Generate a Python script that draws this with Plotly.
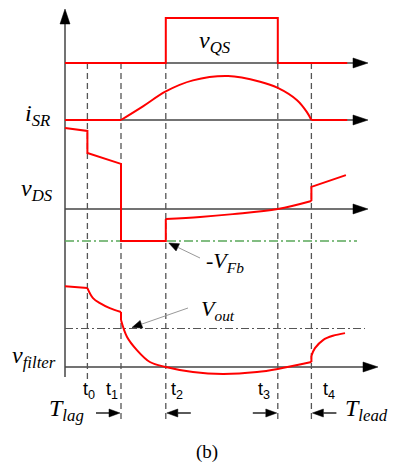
import math
import plotly.graph_objects as go

# ---- event instants on a common time base (arbitrary units) ----
T0, T1, T2, T3, T4 = 1.0, 2.5, 4.5, 9.5, 11.0
T_END = 12.6

# ---- gate drive of the main switch: high between t2 and t3 ----
VQS_T = [0.0, T2, T2, T3, T3, T_END]
VQS_V = [0, 0, 1, 1, 0, 0]

# ---- synchronous-rectifier current (normalised to its peak) ----
ISR_IDLE_T = [0.0, T1]
ISR_IDLE_V = [0, 0]
ISR_ARC_T = [T1, 3.48, T2, 5.71, 7.28, 8.71, T3, 10.36, 10.80, T4]
ISR_ARC_V = [0, 0.31, 0.65, 0.90, 1.0, 0.87, 0.73, 0.45, 0.18, 0]
ISR_TAIL_T = [T4, T_END]
ISR_TAIL_V = [0, 0]

# ---- drain-source voltage (normalised to the body-diode drop V_Fb) ----
VFB = 1.0
VDS_STEP_T = [0.0, T0, T0, T1, T1, T2, T2]
VDS_STEP_V = [2.53, 2.44, 1.75, 1.41, -VFB, -VFB, -0.31]
VDS_RISE_T = [T2, 6.03, 7.5, T3, T4]
VDS_RISE_V = [-0.31, -0.25, -0.16, 0.0, 0.25]
VDS_END_T = [T4, T4, 12.54]
VDS_END_V = [0.25, 0.69, 1.06]

# ---- filtered sense voltage (normalised to V_out) ----
VOUT = 1.0
VF_HOLD_T = [0.0, T0]
VF_HOLD_V = [2.10, 2.05]
VF_DECAY_T = [T0, 1.25, 1.56, 2.0, T1]
VF_DECAY_V = [2.05, 1.79, 1.66, 1.53, 1.43]
VF_STEP_T = [T1, T1]
VF_STEP_V = [1.43, 1.22]
VF_FALL_T = [T1, 2.77, 3.21, 3.79, T2, 5.71, 7.05, 8.57, T3, T4]
VF_FALL_V = [1.22, 0.78, 0.44, 0.13, 0.0, -0.13, -0.18, -0.13, -0.05, 0.13]
VF_JUMP_T = [T4, T4]
VF_JUMP_V = [0.13, 0.29]
VF_RECOVER_T = [T4, 11.16, 11.52, 11.96, 12.5]
VF_RECOVER_V = [0.29, 0.49, 0.70, 0.81, 0.88]

EVENTS = [("t<sub>0</sub>", T0), ("t<sub>1</sub>", T1), ("t<sub>2</sub>", T2),
          ("t<sub>3</sub>", T3), ("t<sub>4</sub>", T4)]

# ---- page geometry ----
W, H = 394, 465
X0_PX, PX_PER_T = 65, 22.4
# (zero-line row in px, px per unit) for each stacked waveform
PANELS = {"y": (63, 45.0), "y2": (120, 44.0), "y3": (209, 32.0), "y4": (367, 38.5)}

RED = "#ff0000"
AXIS = "#444444"
SERIF = "Liberation Serif, Times New Roman, serif"
SANS = "Liberation Sans, Arial, sans-serif"


def tx(px):
    return (px - X0_PX) / PX_PER_T


def py(px):
    return 1 - px / H


def t_px(t):
    return X0_PX + PX_PER_T * t


def v_px(ax, v):
    zero, ppu = PANELS[ax]
    return zero - v * ppu


fig = go.Figure()


def trace(t, v, ax, shape="linear"):
    fig.add_trace(go.Scatter(x=t, y=v, yaxis=ax, mode="lines",
                             line=dict(color=RED, width=2, shape=shape),
                             hoverinfo="skip", showlegend=False))


trace(VQS_T, VQS_V, "y")
trace(ISR_IDLE_T, ISR_IDLE_V, "y2")
trace(ISR_ARC_T, ISR_ARC_V, "y2", "spline")
trace(ISR_TAIL_T, ISR_TAIL_V, "y2")
trace(VDS_STEP_T, VDS_STEP_V, "y3")
trace(VDS_RISE_T, VDS_RISE_V, "y3", "spline")
trace(VDS_END_T, VDS_END_V, "y3")
trace(VF_HOLD_T, VF_HOLD_V, "y4")
trace(VF_DECAY_T, VF_DECAY_V, "y4", "spline")
trace(VF_STEP_T, VF_STEP_V, "y4")
trace(VF_FALL_T, VF_FALL_V, "y4", "spline")
trace(VF_JUMP_T, VF_JUMP_V, "y4")
trace(VF_RECOVER_T, VF_RECOVER_V, "y4", "spline")

shapes = []
annotations = []


def head(tip, tail, length, half, color="black"):
    """Filled arrow head (pixel geometry) pointing from tail to tip."""
    dx, dy = tip[0] - tail[0], tip[1] - tail[1]
    n = math.hypot(dx, dy)
    ux, uy = dx / n, dy / n
    bx, by = tip[0] - ux * length, tip[1] - uy * length
    px_pts = [tip, (bx - uy * half, by + ux * half), (bx + uy * half, by - ux * half)]
    path = "M" + " L".join(f"{tx(a):.4f},{py(b):.4f}" for a, b in px_pts) + " Z"
    shapes.append(dict(type="path", path=path, xref="x", yref="paper",
                       fillcolor=color, line=dict(color=color, width=0.5)))
    return bx, by


def seg(p0, p1, color, width=1.0, dash="solid", layer="above"):
    shapes.append(dict(type="line", xref="x", yref="paper",
                       x0=tx(p0[0]), y0=py(p0[1]), x1=tx(p1[0]), y1=py(p1[1]),
                       line=dict(color=color, width=width, dash=dash), layer=layer))


# vertical (amplitude) axis with its arrow
seg((X0_PX, 23), (X0_PX, 377), AXIS, 1.5, layer="below")
head((X0_PX, 9), (X0_PX, 30), 15, 5)

# time axes of every waveform
for ax, end in (("y", 368), ("y2", 368), ("y3", 368), ("y4", 378)):
    row = v_px(ax, 0)
    seg((X0_PX, row), (end - 14, row), AXIS, 1.5, layer="below")
    head((end, row), (end - 20, row), 15, 5)

# event markers
for label, t in EVENTS:
    bottom = 382 if t == T0 else 423
    seg((t_px(t), 63), (t_px(t), bottom), "#555555", 1.3, dash="6px,4px", layer="below")

# -V_Fb and V_out reference levels
row_fb = v_px("y3", -VFB)
seg((X0_PX, row_fb), (357, row_fb), "#5aa85a", 1.5, dash="9px,3px,2px,3px", layer="below")
row_out = v_px("y4", VOUT)
seg((X0_PX, row_out), (365, row_out), "#555555", 1.0, dash="8px,3px,2px,3px", layer="below")

# callout arrows
tip_fb = (t_px(T2) + 3, row_fb + 2)
base = head(tip_fb, (200, 258), 10, 4)
seg((200, 258), base, "#999999", 1.0)
tip_out = (t_px(T1) + 11, row_out - 1)
base = head(tip_out, (188, 308), 10, 4)
seg((188, 308), base, "#999999", 1.0)

# interval arrows for T_lag and T_lead
for tip_t, side in ((T1, -1), (T2, 1), (T3, -1), (T4, 1)):
    tip = (t_px(tip_t) + side * 1, 413)
    tail = (tip[0] + side * 24, 413)
    b = head(tip, tail, 11, 4)
    seg(b, tail, "black", 1.3)


def text(px_x, px_y, s, size, family=SERIF, anchor="center"):
    annotations.append(dict(x=tx(px_x), y=py(px_y), xref="x", yref="paper",
                            text=s, showarrow=False, xanchor=anchor, yanchor="middle",
                            font=dict(family=family, size=size, color="black")))


text(215, 42, "<i>v</i><sub><i>QS</i></sub>", 24)
text(37, 115, "<i>i</i><sub><i>SR</i></sub>", 24)
text(37, 190, "<i>v</i><sub><i>DS</i></sub>", 24)
text(34, 357, "<i>v</i><sub><i>filter</i></sub>", 24)
text(225, 262, "<i>-V</i><sub><i>Fb</i></sub>", 22)
text(218, 310, "<i>V</i><sub><i>out</i></sub>", 22)
text(66, 410, "<i>T</i><sub><i>lag</i></sub>", 24)
text(366, 410, "<i>T</i><sub><i>lead</i></sub>", 24)
text(207, 452, "(b)", 19)
for (label, t), dx in zip(EVENTS, (2, -9, 11, -14, 18)):
    text(t_px(t) + dx, 390, label, 18, family=SANS)

yaxes = {}
for i, (ax, (zero, ppu)) in enumerate(PANELS.items()):
    key = "yaxis" if ax == "y" else "yaxis" + ax[1:]
    cfg = dict(range=[(zero - H) / ppu, zero / ppu], domain=[0, 1], visible=False,
               fixedrange=True)
    if ax != "y":
        cfg["overlaying"] = "y"
    yaxes[key] = cfg

fig.update_layout(
    width=W, height=H, margin=dict(l=0, r=0, t=0, b=0),
    paper_bgcolor="white", plot_bgcolor="white",
    xaxis=dict(range=[tx(0), tx(W)], visible=False, fixedrange=True),
    shapes=shapes, annotations=annotations, showlegend=False,
    **yaxes,
)

fig.write_html("out.html", config={"displayModeBar": False})
